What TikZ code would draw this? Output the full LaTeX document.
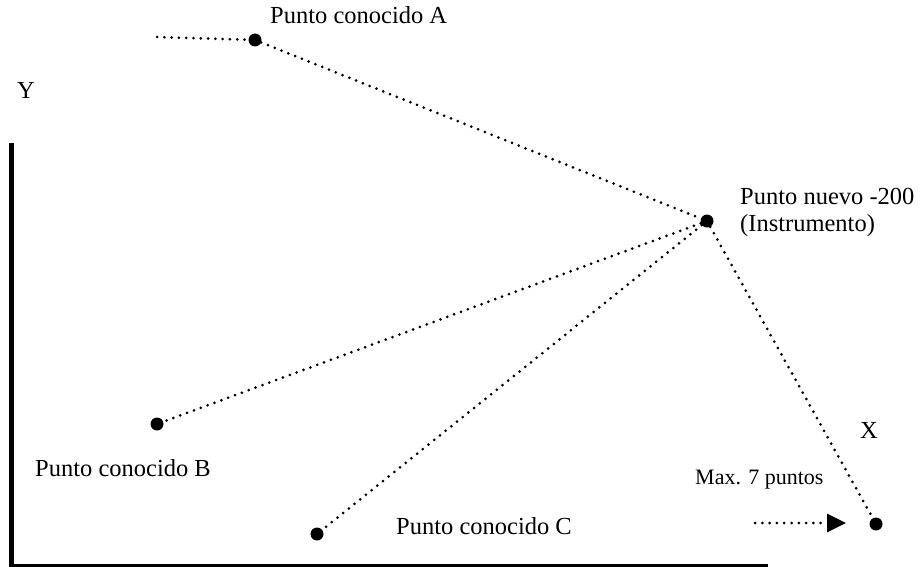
\documentclass[tikz,border=0pt]{standalone}
\usepackage{fontspec}
\setmainfont{Liberation Serif}
\usetikzlibrary{arrows.meta}

\tikzset{
  pto/.style={circle,fill=black,inner sep=0pt,minimum size=13pt},
  punteado/.style={line width=3pt,dash pattern=on 0pt off 7.3pt,line cap=round},
  etiqueta/.style={inner sep=0pt,anchor=base west,font=\fontsize{24.5}{27}\selectfont}
}

\begin{document}
\begin{tikzpicture}[x=1pt,y=-1pt]
\useasboundingbox (0,0) rectangle (921,567);

% ejes
\draw[line width=5pt] (11.5,143) -- (11.5,567);
\draw[line width=2.5pt] (9,565.5) -- (768,565.5);
\node[etiqueta] (ejey) at (17,99) {Y};
\node[etiqueta] (ejex) at (860,438) {X};

% puntos
\node[pto] (A) at (255,40) {};
\node[pto] (N) at (707,221) {};
\node[pto] (B) at (157,424) {};
\node[pto] (C) at (317,534) {};
\node[pto] (D) at (876,524) {};
\coordinate (inicio) at (157,37);
\coordinate (flechaini) at (755,523);
\coordinate (flechafin) at (846,523);

\node[etiqueta] (tA) at (270,24) {Punto conocido A};
\node[etiqueta,align=left,anchor=north west] (tN) at (740,188) {Punto nuevo -200\\(Instrumento)};
\node[etiqueta] (tB) at (35,476) {Punto conocido B};
\node[etiqueta] (tC) at (396,534) {Punto conocido C};
\node[etiqueta,font=\fontsize{22}{26}\selectfont] (tmax) at (695,484) {Max. 7 puntos};

% visuales
\draw[punteado] (inicio) -- (A);
\draw[punteado] (A) -- (N);
\draw[punteado] (N) -- (B);
\draw[punteado] (N) -- (C);
\draw[punteado] (N) -- (D);
\draw[punteado,-{Triangle[length=19pt,width=18pt]}] (flechaini) -- (flechafin);
\end{tikzpicture}
\end{document}
